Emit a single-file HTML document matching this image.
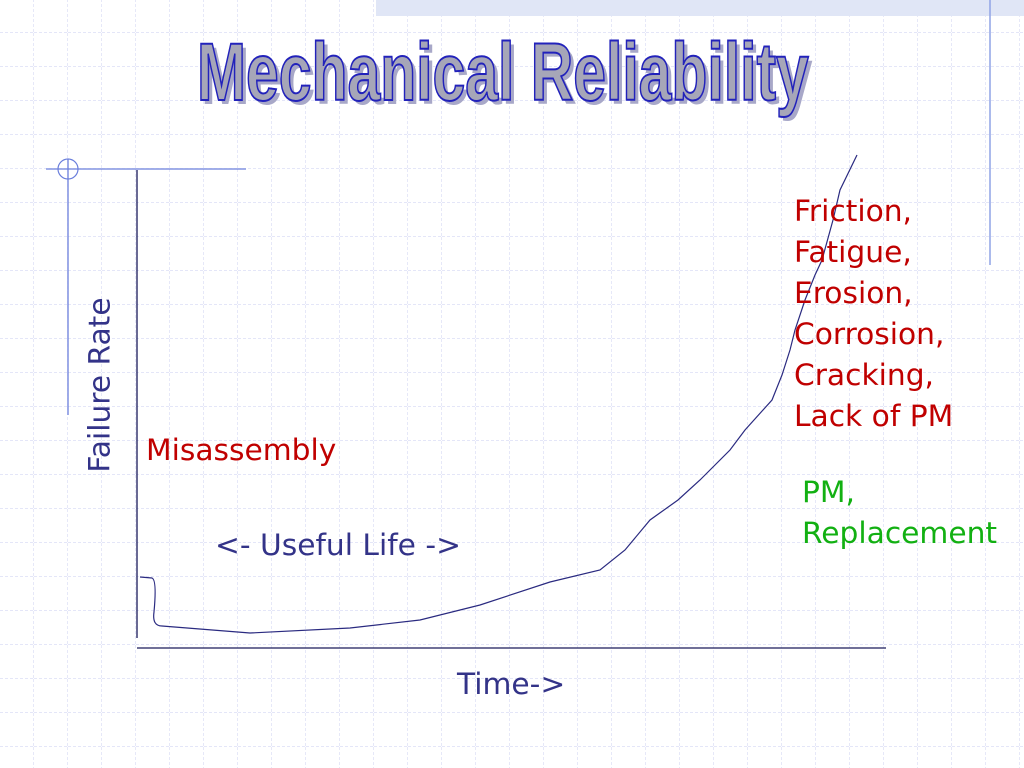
<!DOCTYPE html>
<html><head><style>
body{margin:0;width:1024px;height:768px;overflow:hidden;background:#fff;position:relative;font-family:"DejaVu Sans","Liberation Sans",sans-serif}
.t{position:absolute;font-size:29.7px;line-height:41px;white-space:nowrap}
</style></head><body>
<svg width="1024" height="768" style="position:absolute;left:0;top:0">
<defs><pattern id="g" width="34" height="34" patternUnits="userSpaceOnUse" x="0" y="-1">
<path d="M34 0V34M0 34H34" stroke="#d4d8f4" stroke-width="1.2" stroke-dasharray="3,2" fill="none"/></pattern></defs>
<rect width="1024" height="768" fill="url(#g)"/>
<rect x="376" y="0" width="648" height="16" fill="#e0e6f6"/>
<line x1="990" y1="0" x2="990" y2="265" stroke="#8fa3e6" stroke-width="1.5"/>
<line x1="46" y1="169" x2="246" y2="169" stroke="#6b7fdc" stroke-width="1.3"/>
<circle cx="68" cy="169" r="10" fill="none" stroke="#6b7fdc" stroke-width="1.2"/>
<line x1="68" y1="159" x2="68" y2="415" stroke="#6b7fdc" stroke-width="1.3"/>
<line x1="137" y1="170" x2="137" y2="638" stroke="#1a1a5a" stroke-width="1.3"/>
<line x1="137" y1="648" x2="886" y2="648" stroke="#1a1a5a" stroke-width="1.3"/>
<path d="M140 577 L152 578 Q157 580 154 612 Q152 626 162 626 L250 633 L350 628 L420 620 L480 605 L550 582 L600 570 L625 550 L650 520 L678 500 L700 480 L730 450 L745 430 L772 400 L782 375 L790 350 L795 330 L805 300 L815 275 L822 260 L833 220 L840 190 L857 155" fill="none" stroke="#2a2a80" stroke-width="1.2"/>
<g font-family="Liberation Sans, sans-serif" font-weight="bold" font-size="82" transform="translate(197,100) scale(0.76,1)">
<text x="5" y="4" fill="#a8a8c8" textLength="805" lengthAdjust="spacingAndGlyphs">Mechanical Reliability</text>
<text x="0" y="0" fill="#a6a6b8" stroke="#2222bb" stroke-width="2" textLength="805" lengthAdjust="spacingAndGlyphs">Mechanical Reliability</text>
</g>
</svg>
<div class="t" style="left:794px;top:191px;color:#c00000">Friction,<br>Fatigue,<br>Erosion,<br>Corrosion,<br>Cracking,<br>Lack of PM</div>
<div class="t" style="left:802px;top:472px;color:#12b012">PM,<br>Replacement</div>
<div class="t" style="left:146px;top:430px;color:#c00000">Misassembly</div>
<div class="t" style="left:215px;top:525px;color:#333388">&lt;- Useful Life -&gt;</div>
<div class="t" style="left:457px;top:664px;color:#333388">Time-&gt;</div>
<div class="t" style="left:100px;top:385px;color:#333388;transform:translate(-50%,-50%) rotate(-90deg)">Failure Rate</div>
</body></html>
